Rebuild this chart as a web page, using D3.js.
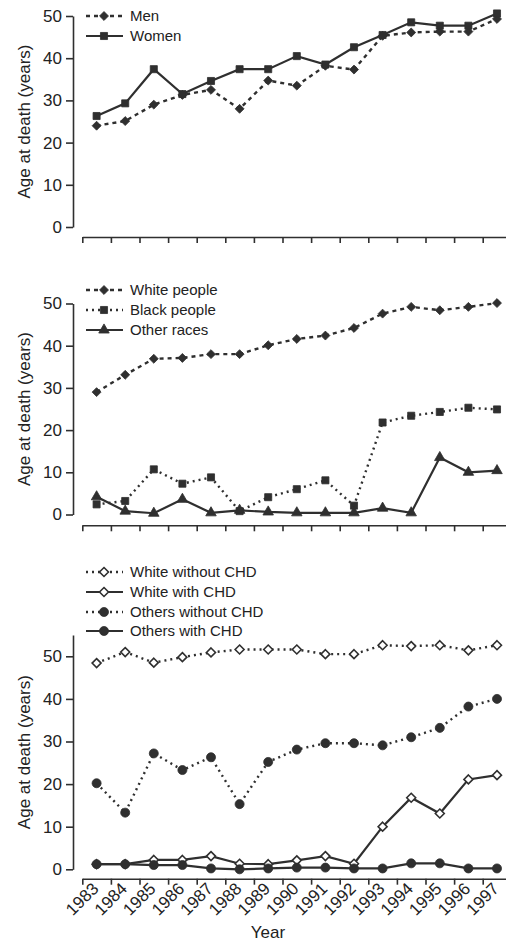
<!DOCTYPE html>
<html>
<head>
<meta charset="utf-8">
<script src="https://cdn.jsdelivr.net/npm/d3@7"></script>
<style>
  body { margin: 0; background: #fff; }
  svg { display: block; font-family: "Liberation Sans", Arial, sans-serif; }
</style>
</head>
<body>
<svg id="chart" width="506" height="947"></svg>
<script>
// years on the x axis
const years = d3.range(1983, 1998);
const yTicks = [0, 10, 20, 30, 40, 50];

// panel 1: sex
const men = [24, 25.1, 29, 31.3, 32.5, 28, 34.7, 33.5, 38.2, 37.3, 45.3, 46.1, 46.3, 46.3, 49.3];
const women = [26.3, 29.3, 37.4, 31.5, 34.6, 37.4, 37.4, 40.5, 38.5, 42.6, 45.5, 48.5, 47.7, 47.7, 50.6];

// panel 2: race
const whitePeople = [29, 33.1, 36.9, 37.1, 38, 38, 40.1, 41.6, 42.4, 44.2, 47.6, 49.2, 48.4, 49.2, 50.1];
const blackPeople = [2.4, 3.2, 10.7, 7.3, 8.8, 0.8, 4.1, 6, 8.1, 2.1, 21.8, 23.4, 24.3, 25.3, 24.9];
const otherRaces = [4.2, 0.8, 0.3, 3.6, 0.4, 1, 0.6, 0.4, 0.4, 0.4, 1.5, 0.4, 13.5, 10, 10.4];

// panel 3: race x CHD
const whiteNoChd = [48.4, 51, 48.5, 49.8, 50.9, 51.6, 51.6, 51.6, 50.5, 50.5, 52.6, 52.4, 52.6, 51.4, 52.6];
const whiteChd = [1.2, 1.2, 2.2, 2.2, 3.1, 1.3, 1.2, 2.1, 3.1, 1.3, 10, 16.8, 13.1, 21.1, 22.1];
const othersNoChd = [20.2, 13.3, 27.2, 23.3, 26.3, 15.3, 25.2, 28.1, 29.6, 29.6, 29.1, 31, 33.2, 38.2, 40];
const othersChd = [1.2, 1.2, 1, 1, 0.2, 0, 0.2, 0.4, 0.4, 0.2, 0.2, 1.4, 1.4, 0.2, 0.2];

const ink = "#2f2f2f";
const textInk = "#222";
const svg = d3.select("#chart");

// band per year; ticks sit on the band edges, points in the middle
const x = d3.scaleBand().domain(years).range([82.3, 511.3]).padding(0);
const xEdge = d3.scaleLinear().domain([1983, 1998]).range([82.3, 511.3]);
const cx = d => x(d) + x.bandwidth() / 2;

const panels = [
  {
    y0: 227, yTop: 16, max: 50, axisY: 237, showYears: false,
    series: [
      { name: "Men", values: men, dash: "4,4", marker: "diamond", fill: ink },
      { name: "Women", values: women, dash: null, marker: "square", fill: ink }
    ],
    legendY: [16, 36]
  },
  {
    y0: 514.5, yTop: 303.5, max: 50, axisY: 525.3, showYears: false,
    series: [
      { name: "White people", values: whitePeople, dash: "4,4", marker: "diamond", fill: ink },
      { name: "Black people", values: blackPeople, dash: "2,4", marker: "square", fill: ink },
      { name: "Other races", values: otherRaces, dash: null, marker: "triangle", fill: ink }
    ],
    legendY: [290, 310, 330]
  },
  {
    y0: 869.3, yTop: 635, max: 55, axisY: 878.7, showYears: true,
    series: [
      { name: "White without CHD", values: whiteNoChd, dash: "2,4", marker: "diamond", fill: "#fff" },
      { name: "White with CHD", values: whiteChd, dash: null, marker: "diamond", fill: "#fff" },
      { name: "Others without CHD", values: othersNoChd, dash: "2,4", marker: "circle", fill: ink },
      { name: "Others with CHD", values: othersChd, dash: null, marker: "circle", fill: ink }
    ],
    legendY: [572, 592, 612, 631]
  }
];

// square diamond (d3's own is tall and narrow)
const squareDiamond = {
  draw(ctx, size) {
    const r = Math.sqrt(size / 2);
    ctx.moveTo(0, -r);
    ctx.lineTo(r, 0);
    ctx.lineTo(0, r);
    ctx.lineTo(-r, 0);
    ctx.closePath();
  }
};

const symbolSize = { diamond: 40, square: 50, triangle: 48, circle: 64 };
const symbolType = {
  diamond: squareDiamond,
  square: d3.symbolSquare,
  triangle: d3.symbolTriangle,
  circle: d3.symbolCircle
};

function drawMarker(g, type, fill, px, py) {
  g.append("path")
    .attr("d", d3.symbol().type(symbolType[type]).size(symbolSize[type])())
    .attr("transform", `translate(${px},${py})`)
    .attr("fill", fill)
    .attr("stroke", ink)
    .attr("stroke-width", fill === "#fff" ? 1.6 : 0.8);
}

panels.forEach(p => {
  const y = d3.scaleLinear().domain([0, p.max]).range([p.y0, p.yTop]);
  const g = svg.append("g");

  // y axis
  const yAxis = g.append("g")
    .attr("transform", "translate(73,0)")
    .call(d3.axisLeft(y).tickValues(yTicks).tickSize(7).tickSizeOuter(0).tickPadding(4));
  yAxis.select(".domain").attr("stroke", ink).attr("stroke-width", 1.6);
  yAxis.selectAll(".tick line").attr("stroke", ink).attr("stroke-width", 1.6);
  yAxis.selectAll(".tick text")
    .attr("fill", textInk)
    .style("font-size", "17px");

  g.append("text")
    .attr("transform", `translate(30,${(p.y0 + p.yTop) / 2}) rotate(-90)`)
    .attr("text-anchor", "middle")
    .attr("fill", textInk)
    .style("font-size", "17px")
    .text("Age at death (years)");

  // x axis
  const xAxis = g.append("g")
    .attr("transform", `translate(0,${p.axisY})`)
    .call(d3.axisBottom(xEdge).tickValues(years).tickFormat("").tickSize(6).tickSizeOuter(0));
  xAxis.select(".domain").attr("stroke", ink).attr("stroke-width", 1.6);
  xAxis.selectAll(".tick line").attr("stroke", ink).attr("stroke-width", 1.6);

  if (p.showYears) {
    g.selectAll(".year")
      .data(years)
      .join("text")
      .attr("class", "year")
      .attr("transform", d => `translate(${cx(d) + 3},${p.axisY + 11}) rotate(-45)`)
      .attr("text-anchor", "end")
      .attr("fill", textInk)
      .style("font-size", "17px")
      .text(d => d);

    g.append("text")
      .attr("x", 268)
      .attr("y", 938)
      .attr("text-anchor", "middle")
      .attr("fill", textInk)
      .style("font-size", "17px")
      .text("Year");
  }

  // series
  const line = d3.line().x((d, i) => cx(years[i])).y(d => y(d));
  p.series.forEach(s => {
    g.append("path")
      .datum(s.values)
      .attr("d", line)
      .attr("fill", "none")
      .attr("stroke", ink)
      .attr("stroke-width", s.dash ? 2.4 : 2.2)
      .attr("stroke-dasharray", s.dash);
    s.values.forEach((v, i) => drawMarker(g, s.marker, s.fill, cx(years[i]), y(v)));
  });

  // legend
  p.series.forEach((s, i) => {
    const ly = p.legendY[i];
    g.append("line")
      .attr("x1", 86).attr("x2", 123)
      .attr("y1", ly).attr("y2", ly)
      .attr("stroke", ink)
      .attr("stroke-width", s.dash ? 2.4 : 2.2)
      .attr("stroke-dasharray", s.dash);
    drawMarker(g, s.marker, s.fill, 104, ly);
    g.append("text")
      .attr("x", 130)
      .attr("y", ly)
      .attr("dy", "0.35em")
      .attr("fill", textInk)
      .style("font-size", "15px")
      .text(s.name);
  });
});
</script>
</body>
</html>
